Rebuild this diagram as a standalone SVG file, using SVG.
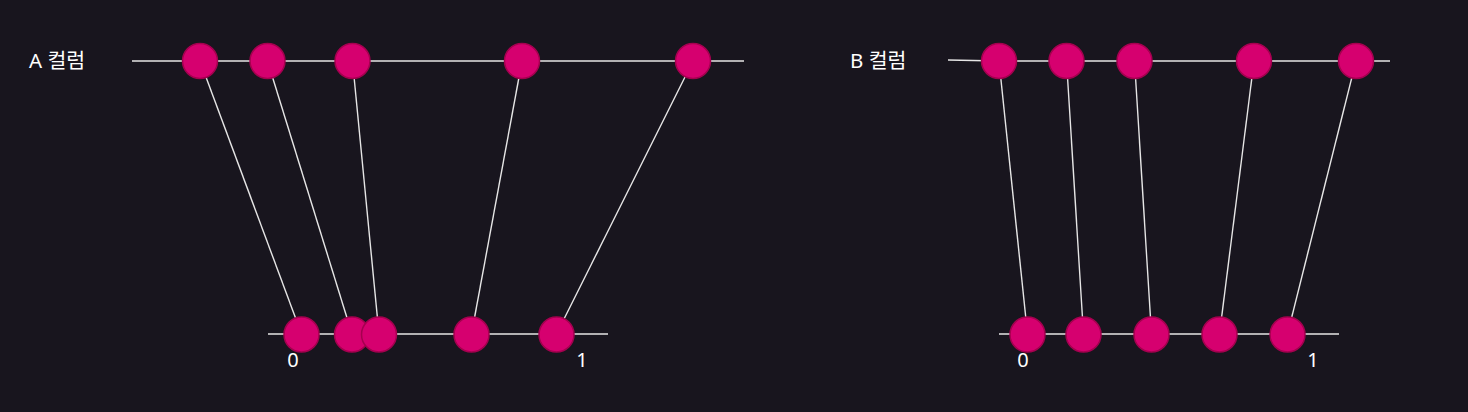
<svg xmlns="http://www.w3.org/2000/svg" width="1468" height="412" viewBox="0 0 1468 412">
<style>
.bg{fill:#18151e}
.axis{stroke:#e6e6e6;stroke-width:1.6;fill:none}
.link{stroke:#e6e6e6;stroke-width:1.4;fill:none}
.dot{fill:#d6006f;stroke:#a5004f;stroke-width:1.5}
.lbl{font-family:"Noto Sans","Noto Sans CJK KR",sans-serif;font-size:20.5px;fill:#ffffff}
.num{font-family:"Noto Sans",sans-serif;font-size:20px;fill:#ffffff;text-anchor:middle}
</style>
<rect class="bg" width="1468" height="412"/>
<g id="connectors">
<line class="axis" x1="132" y1="61" x2="744" y2="61"/>
<line class="axis" x1="268" y1="334" x2="608" y2="334"/>
<line class="axis" x1="948" y1="60" x2="999" y2="61"/>
<line class="axis" x1="999" y1="61" x2="1390" y2="61"/>
<line class="axis" x1="999" y1="334" x2="1339" y2="334"/>
<line class="link" x1="200" y1="61" x2="301.5" y2="334"/>
<line class="link" x1="267.5" y1="61" x2="352" y2="334"/>
<line class="link" x1="352.5" y1="61" x2="379" y2="334"/>
<line class="link" x1="522" y1="61" x2="471.5" y2="334"/>
<line class="link" x1="693" y1="61" x2="556.5" y2="334"/>
<line class="link" x1="999" y1="61" x2="1027.5" y2="334"/>
<line class="link" x1="1066.5" y1="61" x2="1083.5" y2="334"/>
<line class="link" x1="1134.5" y1="61" x2="1151.5" y2="334"/>
<line class="link" x1="1254" y1="61" x2="1219.5" y2="334"/>
<line class="link" x1="1356" y1="61" x2="1287.5" y2="334"/>
</g>
<g id="labelA"><text class="lbl" x="29" y="68">A 컬럼</text></g>
<g id="labelB"><text class="lbl" x="850" y="68">B 컬럼</text></g>
<g id="A-top">
<circle class="dot" cx="200" cy="61" r="17.5"/>
<circle class="dot" cx="267.5" cy="61" r="17.5"/>
<circle class="dot" cx="352.5" cy="61" r="17.5"/>
<circle class="dot" cx="522" cy="61" r="17.5"/>
<circle class="dot" cx="693" cy="61" r="17.5"/>
</g>
<g id="A-bottom">
<circle class="dot" cx="301.5" cy="334.5" r="17.5"/>
<circle class="dot" cx="352" cy="334.5" r="17.5"/>
<circle class="dot" cx="379" cy="334.5" r="17.5"/>
<circle class="dot" cx="471.5" cy="334.5" r="17.5"/>
<circle class="dot" cx="556.5" cy="334.5" r="17.5"/>
<text class="num" x="293" y="367">0</text>
<text class="num" x="582" y="367">1</text>
</g>
<g id="B-top">
<circle class="dot" cx="999" cy="61" r="17.5"/>
<circle class="dot" cx="1066.5" cy="61" r="17.5"/>
<circle class="dot" cx="1134.5" cy="61" r="17.5"/>
<circle class="dot" cx="1254" cy="61" r="17.5"/>
<circle class="dot" cx="1356" cy="61" r="17.5"/>
</g>
<g id="B-bottom">
<circle class="dot" cx="1027.5" cy="334.5" r="17.5"/>
<circle class="dot" cx="1083.5" cy="334.5" r="17.5"/>
<circle class="dot" cx="1151.5" cy="334.5" r="17.5"/>
<circle class="dot" cx="1219.5" cy="334.5" r="17.5"/>
<circle class="dot" cx="1287.5" cy="334.5" r="17.5"/>
<text class="num" x="1023" y="367">0</text>
<text class="num" x="1313" y="367">1</text>
</g>
</svg>
